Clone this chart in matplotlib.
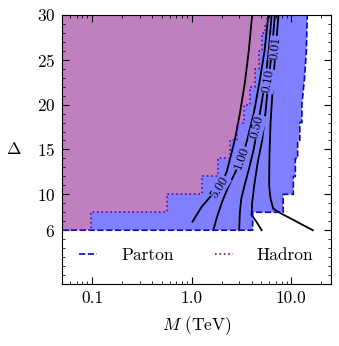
import matplotlib
matplotlib.use("Agg")
import matplotlib.pyplot as plt
from matplotlib.ticker import FixedLocator, MultipleLocator

plt.rcParams['font.family'] = 'serif'
plt.rcParams['font.serif'] = ['cmr10']
plt.rcParams['mathtext.fontset'] = 'cm'
plt.rcParams['axes.formatter.use_mathtext'] = True
plt.rcParams['font.size'] = 12.5

# region edges (M in TeV, Delta)
parton_M = [0.05, 4.1, 4.1, 8.3, 8.3, 10.5, 10.5, 11.0, 11.0, 11.6, 11.6, 12.2, 12.2, 12.8, 12.8, 13.6, 14.2, 14.5]
parton_D = [6, 6, 8, 8, 10, 10, 12, 12, 14, 14, 16, 16, 18, 18, 20, 23, 26, 30]

hadron_M = [0.05, 0.098, 0.098, 0.565, 0.565, 1.27, 1.27, 1.84, 1.84, 2.42, 2.42, 2.85, 2.85, 3.37,
            3.37, 3.84, 3.84, 4.3, 4.3, 4.7, 4.7, 5.1, 5.1, 5.45, 5.45, 5.7, 5.7]
hadron_D = [6, 6, 8, 8, 10, 10, 12, 12, 14, 14, 16, 16, 18, 18,
            20, 20, 22, 22, 24, 24, 26, 26, 28, 28, 29, 29, 30]

# contour lines
c500_M = [1.02, 1.26, 1.53, 1.92, 2.25, 2.5, 2.72, 3.05, 3.42, 3.75, 4.05]
c500_D = [6.95, 8.6, 9.7, 10.8, 12.5, 14.5, 16.1, 19, 22.4, 26, 30]
c100_M = [1.65, 1.8, 2.0, 2.3, 2.7, 3.2, 3.6, 4.2, 4.8, 5.4, 5.9]
c100_D = [6, 7.5, 9, 10.7, 12.3, 14, 16, 19, 22.5, 26, 30]
c050_M = [3.0, 3.05, 3.15, 3.4, 3.8, 4.2, 4.6, 5.1, 5.6, 6.0, 6.35]
c050_D = [6, 8, 9.5, 11, 13, 15, 17.5, 20.5, 23.5, 26.5, 30]
c010_M = [5.05, 4.5, 4.0, 4.05, 4.25, 4.6, 5.1, 5.5, 5.9, 6.4, 6.85]
c010_D = [6, 6.9, 7.7, 9, 11, 13.5, 16, 19, 22.6, 26, 30]
c001_M = [16.5, 13.0, 10.3, 7.8, 6.6, 6.2, 6.0, 6.05, 6.2, 6.6, 7.0, 7.45]
c001_D = [6.0, 6.6, 7.2, 7.9, 8.4, 9.5, 11, 14.5, 18, 22.7, 26.3, 30]

labels = ["5.00", "1.00", "0.50", "0.10", "0.01"]
label_M = [1.92, 3.2, 4.6, 5.9, 7.0]
label_D = [10.8, 14.0, 17.5, 22.6, 26.3]
label_rot = [58, 70, 76, 80, 84]

fig = plt.figure(figsize=(3.39, 3.46), dpi=100)
ax = fig.add_axes([0.183, 0.179, 0.793, 0.778])

blue_fill = '#8080ff'
purple_fill = '#bf80bf'

ax.fill(parton_M + [0.05], parton_D + [30], color=blue_fill, lw=0)
ax.fill(hadron_M + [0.05], hadron_D + [30], color=purple_fill, lw=0)

for xs, ys in [(c500_M, c500_D), (c100_M, c100_D), (c050_M, c050_D),
               (c010_M, c010_D), (c001_M, c001_D)]:
    ax.plot(xs, ys, color='black', lw=1.3)

for t, xm, yd, r in zip(labels, label_M, label_D, label_rot):
    ax.text(xm, yd, t, rotation=r, ha='center', va='center', fontsize=9.5,
            bbox=dict(facecolor=blue_fill, edgecolor='none', pad=0.5))

ax.plot(parton_M, parton_D, color='blue', ls='--', lw=1.2, label='Parton')
ax.plot(hadron_M, hadron_D, color='purple', ls=':', lw=1.2, label='Hadron')

ax.set_xscale('log')
ax.set_xlim(0.05, 25)
ax.set_ylim(0, 30)
ax.set_xticks([0.1, 1, 10], ["0.1", "1.0", "10.0"])
ax.yaxis.set_major_locator(FixedLocator([6, 10, 15, 20, 25, 30]))
ax.yaxis.set_minor_locator(MultipleLocator(1))
ax.tick_params(which='both', direction='in', top=True, right=True)
ax.tick_params(which='major', length=5, pad=5)
ax.tick_params(which='minor', length=2.5)

ax.set_xlabel(r'$M$ (TeV)', labelpad=6)
ax.set_ylabel(r'$\Delta$', rotation=0, labelpad=16, va='center')

ax.legend(loc='center', bbox_to_anchor=(0.5, 0.105), ncol=2, frameon=False,
          handlelength=1.0, handletextpad=1.4, columnspacing=2.4)

fig.savefig('out.png', dpi=100)
